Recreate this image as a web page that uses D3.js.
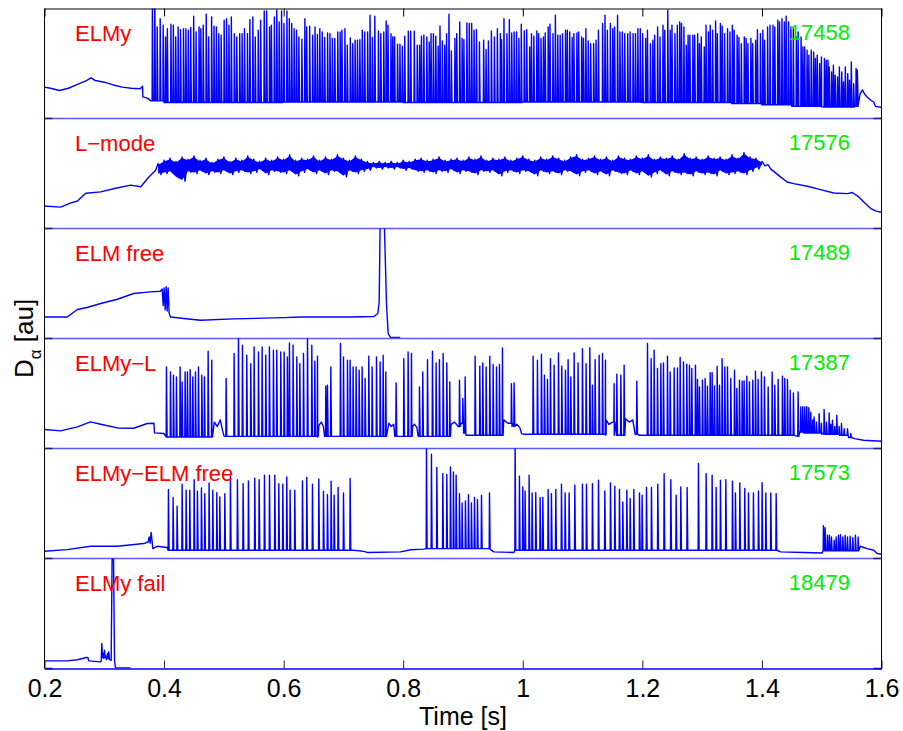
<!DOCTYPE html>
<html>
<head>
<meta charset="utf-8">
<script src="https://cdn.jsdelivr.net/npm/d3@7"></script>
<style>
  body { margin: 0; background: #fff; }
  svg { font-family: "Liberation Sans", Arial, sans-serif; }
</style>
</head>
<body>
<div id="chart"></div>
<script>
// Panel labels and shot numbers, top to bottom
const panelLabels = ["ELMy", "L\u2212mode", "ELM free", "ELMy\u2212L", "ELMy\u2212ELM free", "ELMy fail"];
const shotNumbers = ["17458", "17576", "17489", "17387", "17573", "18479"];

const xTicks = [0.2, 0.4, 0.6, 0.8, 1.0, 1.2, 1.4, 1.6];
const xTickLabels = ["0.2", "0.4", "0.6", "0.8", "1", "1.2", "1.4", "1.6"];

// D-alpha in arbitrary units, every panel runs 0..10
// --- 17458 ELMy: level between ELMs, then the ELM peaks [time s, au]
const elmyFloor = [[0.200,2.85],[0.210,2.75],[0.225,2.55],[0.240,2.75],[0.255,3.1],[0.270,3.45],[0.278,3.7],[0.285,3.45],[0.300,3.3],[0.315,3.05],[0.330,2.85],[0.345,2.75],[0.360,2.7],[0.364,2.93],[0.3645,1.96],[0.372,1.85],[0.378,1.6],[0.40,1.45],[0.60,1.5],[0.80,1.45],[1.00,1.5],[1.20,1.45],[1.35,1.35],[1.40,1.25],[1.45,1.1],[1.50,1.05],[1.556,1.1],[1.5605,2.5],[1.564,2.2],[1.568,2.6],[1.572,2.2],[1.576,1.96],[1.582,1.66],[1.587,1.5],[1.590,1.1],[1.601,1.0]];
const elmyPeaks = [[0.380,11],[0.384,11],[0.388,8.33],[0.393,9.08],[0.398,8.48],[0.402,7.42],[0.405,8.17],[0.411,8.57],[0.415,8.48],[0.419,7.42],[0.423,8.33],[0.427,8.08],[0.432,8.17],[0.436,8.17],[0.440,8.02],[0.444,8.27],[0.449,9.3],[0.453,7.87],[0.458,8.33],[0.461,8.17],[0.465,8.48],[0.470,9.48],[0.474,7.42],[0.479,9.23],[0.483,8.39],[0.487,8.33],[0.491,7.72],[0.495,7.57],[0.500,8.93],[0.504,9.08],[0.508,8.48],[0.512,9.23],[0.517,7.72],[0.521,7.42],[0.526,7.72],[0.530,7.72],[0.534,8.17],[0.539,7.72],[0.543,8.99],[0.548,9.23],[0.552,7.42],[0.557,8.02],[0.561,8.93],[0.567,9.78],[0.571,9.78],[0.576,8.33],[0.579,8.48],[0.584,9.23],[0.588,9.84],[0.592,8.78],[0.596,9.78],[0.600,8.63],[0.605,9.78],[0.609,9.08],[0.613,8.63],[0.617,8.17],[0.621,8.02],[0.625,7.42],
  [0.630,7.2],[0.635,9.08],[0.638,8.33],[0.643,8.39],[0.648,7.57],[0.652,8.33],[0.656,7.63],[0.660,8.17],[0.664,7.87],[0.668,7.36],[0.673,7.78],[0.677,7.72],[0.681,7.27],[0.685,7.27],[0.690,7.87],[0.694,7.87],[0.697,8.02],[0.702,8.17],[0.706,6.66],[0.711,7.33],[0.715,6.81],[0.719,7.11],[0.723,7.11],[0.727,7.17],[0.731,8.02],[0.735,7.87],[0.740,7.87],[0.744,9.39],[0.748,7.36],[0.752,9.3],[0.758,7.96],[0.762,7.72],[0.767,7.87],[0.771,8.87],[0.774,8.48],[0.779,7.72],[0.782,7.42],[0.785,7.42],[0.790,6.75],[0.794,6.75],[0.798,6.57],[0.802,7.48],[0.808,7.93],[0.812,7.93],[0.818,7.93],[0.823,6.66],[0.827,6.66],[0.830,7.48],[0.834,7.57],[0.839,7.42],[0.843,6.96],[0.846,7.72],[0.850,7.72],[0.854,7.48],[0.858,6.57],[0.861,8.42],[0.865,7.05],[0.869,6.66],[0.872,7.72],[0.876,9.48],[0.880,6.14],[0.886,7.27],[0.889,7.72],[0.894,8.78],[0.898,7.27],[0.901,7.17],[0.906,8.69],[0.910,8.63],[0.914,8.63],[0.918,8.02],[0.922,8.08],[0.927,6.96],[0.934,7.11],[0.938,6.27],[0.942,7.05],[0.947,7.96],[0.952,7.42],[0.957,8.17],[0.962,7.72],[0.964,7.17],[0.968,9.08],[0.973,7.72],[0.977,8.99],[0.981,7.78],[0.985,7.87],[0.989,7.87],[0.993,7.27],[0.997,8.57],[1.002,7.96],[1.006,8.08],[1.011,6.51],[1.014,7.72],[1.018,7.48],[1.023,7.96],[1.026,7.72],[1.030,7.27],[1.034,7.42],[1.037,7.78],[1.042,8.33],[1.045,8.57],[1.050,7.72],[1.054,9.39],[1.058,7.57],[1.062,7.57],[1.066,7.72],[1.071,8.02],[1.074,8.02],[1.078,7.87],[1.082,7.36],[1.085,7.72],[1.090,7.78],[1.093,7.87],[1.098,7.42],[1.101,7.27],[1.105,8.17],[1.109,7.05],[1.113,6.81],[1.118,6.81],[1.122,7.11],[1.126,8.02],
  [1.133,8.63],[1.137,9.39],[1.141,8.02],[1.146,8.63],[1.150,8.17],[1.153,8.33],[1.158,9.39],[1.162,7.87],[1.166,7.87],[1.170,7.72],[1.175,7.72],[1.179,7.87],[1.184,7.72],[1.188,7.72],[1.192,8.17],[1.196,8.17],[1.200,7.72],[1.205,7.27],[1.208,8.02],[1.213,6.81],[1.217,7.11],[1.220,7.57],[1.225,8.33],[1.229,7.42],[1.234,8.48],[1.237,8.02],[1.242,9.84],[1.246,8.02],[1.249,8.48],[1.254,7.72],[1.258,8.48],[1.262,8.78],[1.265,8.63],[1.269,8.33],[1.273,6.66],[1.276,7.57],[1.279,7.57],[1.284,7.57],[1.287,7.57],[1.292,7.72],[1.295,6.81],[1.298,7.42],[1.303,6.51],[1.306,8.48],[1.310,7.87],[1.313,8.48],[1.317,8.02],[1.322,8.87],[1.325,7.72],[1.330,8.63],[1.333,8.39],[1.337,7.72],[1.342,8.17],[1.346,7.87],[1.350,8.48],[1.353,8.02],[1.358,7.57],[1.361,7.36],[1.365,6.81],[1.370,7.42],[1.373,7.27],[1.376,6.81],[1.381,7.27],[1.384,6.81],[1.389,7.11],[1.392,8.08],[1.397,7.72],[1.401,8.02],[1.404,7.11],[1.409,8.33],[1.413,8.48],[1.418,8.48],[1.421,8.33],[1.426,8.93],[1.429,8.78],[1.433,9.08],[1.437,8.78],[1.440,9.3],[1.444,8.78],[1.448,8.33],[1.452,8.17],[1.457,7.42],[1.460,7.87],[1.465,7.42],[1.468,6.51],[1.471,6.51],[1.475,6.2],[1.478,5.75],[1.482,6.2],[1.486,6.05],[1.489,5.45],[1.492,5.75],[1.496,4.99],[1.499,5.6],[1.504,5.45],[1.507,5.3],[1.510,5.3],[1.512,4.69],[1.516,4.23],[1.519,4.84],[1.522,3.93],[1.526,3.78],[1.529,4.69],[1.533,4.23],[1.536,3.33],[1.539,4.69],[1.543,4.08],[1.546,3.48],[1.549,5.14],[1.553,3.17],[1.557,4.54],[1.559,4.39]];

// --- 17576 L-mode: smooth parts plus the fluctuating phase sampled every 5 ms (max, min alternating)
const lmodeSmooth = [[0.200,2.05],[0.227,1.94],[0.243,2.3],[0.255,2.5],[0.269,3.2],[0.294,3.33],[0.319,3.66],[0.344,3.94],[0.361,3.8],[0.375,4.7],[0.386,5.3],
  [1.410,5.8],[1.415,5.4],[1.431,4.69],[1.442,4.23],[1.453,4.08],[1.476,3.84],[1.498,3.54],[1.520,3.23],[1.543,3.17],[1.551,3.27],[1.562,2.87],[1.573,2.27],[1.582,1.81],[1.590,1.6],[1.601,1.45]];
const lmodeStart = 0.39;
const lmodeStep = 0.005;
const lmodeSamples = [5.9,4.9,6.2,5.0,6.4,5.1,6.1,4.6,6.5,4.3,6.3,5.1,6.6,5.0,6.2,5.2,6.4,4.9,6.0,5.1,
  6.3,5.0,6.5,5.2,6.1,4.9,6.4,5.1,6.2,5.2,6.6,5.0,6.3,5.1,6.1,5.3,6.4,4.9,6.2,5.2,
  6.5,5.1,6.3,5.0,6.7,5.2,6.2,4.8,6.4,5.1,6.3,5.3,6.6,5.0,6.2,5.2,6.5,4.9,6.3,5.2,
  6.7,5.1,6.4,4.7,6.2,5.2,6.6,5.0,6.3,5.2,6.1,5.3,6.0,5.5,6.1,5.4,6.0,5.5,6.1,5.4,
  6.0,5.5,6.2,5.3,6.1,5.4,6.3,5.2,6.4,5.1,6.2,5.2,6.3,5.0,6.5,5.2,6.2,5.1,6.3,5.3,
  6.4,5.0,6.2,5.2,6.5,5.1,6.3,4.9,6.6,5.2,6.2,5.1,6.4,5.2,6.3,4.8,6.5,5.1,6.2,5.2,
  6.4,5.0,6.6,5.2,6.3,5.1,6.2,4.8,6.5,5.2,6.3,5.0,6.6,5.1,6.4,4.9,6.2,5.2,6.5,5.1,
  6.7,4.8,6.3,5.1,6.4,5.2,6.6,4.9,6.3,5.1,6.5,4.8,6.2,5.2,6.6,5.0,6.4,4.9,6.3,5.2,
  6.6,4.9,6.4,5.1,6.7,4.7,6.3,5.0,6.5,5.2,6.4,4.8,6.6,5.1,6.3,4.9,6.8,5.0,6.4,4.8,
  6.5,5.1,6.3,4.9,6.6,5.0,6.4,4.8,6.5,5.2,6.3,4.9,6.7,5.0,6.4,5.1,6.9,4.9,6.5,5.2,
  6.4,5.4,6.1,5.7];

// --- 17489 ELM free
const elmFreeTrace = [[0.200,1.96],[0.238,1.96],[0.255,2.64],[0.271,2.82],[0.294,3.18],[0.322,3.57],[0.349,4.09],[0.377,4.24],[0.394,4.3],[0.3968,4.5],[0.3985,3.0],[0.4001,4.6],[0.4018,2.6],[0.4035,4.7],[0.4051,2.5],[0.4068,4.6],[0.4085,2.3],[0.4107,1.95],[0.433,1.82],[0.4609,1.66],[0.5167,1.78],[0.6003,1.9],[0.628,1.96],[0.712,1.96],[0.751,2.0],[0.7575,2.27],[0.7598,3.3],[0.7615,11],[0.7681,11],[0.7698,7.7],[0.772,3.2],[0.7748,0.45],[0.7787,0.1],[0.795,0.1]];

// --- 17387 ELMy-L
const elmyLFloor = [[0.200,1.73],[0.227,1.6],[0.255,1.96],[0.277,2.42],[0.294,2.2],[0.322,1.87],[0.349,1.84],[0.372,2.27],[0.383,2.3],[0.384,1.42],[0.400,1.36],[0.4034,1.05],[0.470,1.05],[0.480,1.8],[0.484,2.4],[0.489,2.0],[0.494,2.6],[0.498,1.6],[0.5005,1.1],[0.657,1.05],[0.659,2.1],[0.663,2.4],[0.6665,2.0],[0.6685,1.1],[0.7715,1.9],[0.776,2.3],[0.780,2.0],[0.784,2.2],[0.786,1.1],[0.8145,1.1],[0.8155,2.0],[0.819,2.2],[0.823,1.9],[0.825,1.1],[0.8785,1.1],[0.880,2.2],[0.886,2.4],[0.892,2.0],[0.897,2.3],[0.901,1.4],[0.905,1.2],[0.9665,1.2],[0.968,2.6],[0.975,2.3],[0.982,2.0],[0.990,2.2],[0.995,1.9],[0.998,1.36],[1.001,1.3],[1.1385,1.2],[1.1395,2.6],[1.144,2.2],[1.150,2.4],[1.153,1.2],[1.1705,1.2],[1.172,2.7],[1.178,2.4],[1.184,2.6],[1.188,1.3],[1.195,1.2],[1.460,1.1],[1.4635,1.5],[1.470,1.4],[1.500,1.3],[1.530,1.2],[1.545,1.0],[1.555,0.9],[1.570,0.75],[1.601,0.66]];
const elmyLPeaks = [[0.4035,7.42],[0.4102,6.96],[0.4152,6.66],[0.4202,6.51],[0.4263,7.42],[0.4297,6.05],[0.4347,6.96],[0.4386,6.96],[0.4431,7.17],[0.4475,6.51],[0.4520,6.96],[0.4570,7.42],[0.4626,6.66],[0.4670,6.51],[0.4732,8.84],[0.4793,8.02],[0.5033,6.36],[0.5167,8.63],[0.5239,10.5],[0.5306,9.39],[0.5378,8.48],[0.5445,7.72],[0.5501,9.23],[0.5574,8.78],[0.5635,9.23],[0.5696,8.48],[0.5757,9.23],[0.5824,8.93],[0.5880,8.93],[0.5947,8.78],[0.6003,8.78],[0.6058,8.33],[0.6092,9.6],[0.6153,9.39],[0.6215,8.33],[0.6265,7.72],
  [0.6327,8.63],[0.6394,10.5],[0.6466,9.39],[0.6516,7.93],[0.6561,8.39],[0.6700,5.66],[0.6728,5.75],[0.6784,7.42],[0.6945,9.54],[0.6996,8.33],[0.7063,8.02],[0.7107,8.02],[0.7157,7.42],[0.7207,7.42],[0.7258,7.11],[0.7308,7.42],[0.7358,6.36],[0.7419,8.39],[0.7475,7.42],[0.7548,8.33],[0.7609,7.87],[0.7659,8.48],[0.7704,6.96],[0.7876,5.96],[0.8005,8.17],[0.8077,8.78],[0.8133,8.63],[0.8267,5.6],[0.8322,6.96],[0.8401,8.08],[0.8484,8.84],[0.8545,7.78],[0.8601,8.08],[0.8663,8.63],[0.8724,7.78],[0.8774,6.05],[0.8936,6.2],[0.8992,4.54],[0.9031,6.51],[0.9198,8.39],[0.9276,7.48],[0.9326,7.78],[0.9382,7.42],[0.9443,8.39],[0.9499,7.63],[0.9555,7.42],[0.9605,7.63],[0.9655,9.14],[0.9805,5.9],[0.9850,5.96],[1.0168,8.39],[1.0240,8.02],[1.0307,8.57],[1.0357,6.66],[1.0408,6.27],[1.0458,8.17],[1.0519,7.57],[1.0592,8.69],[1.0647,7.48],[1.0709,7.11],[1.0753,8.08],[1.0798,6.51],[1.0854,8.69],[1.0920,7.78],[1.0993,9.08],[1.1054,7.72],[1.1116,9.17],[1.1160,5.75],[1.1205,8.08],[1.1272,8.48],
  [1.1328,8.63],[1.1378,8.02],[1.1523,5.9],[1.1568,6.75],[1.1635,6.66],[1.1690,7.57],[1.1902,6.11],[1.2081,9.54],[1.2142,8.17],[1.2192,8.93],[1.2248,7.27],[1.2304,7.72],[1.2348,7.78],[1.2415,8.39],[1.2460,6.96],[1.2527,7.33],[1.2582,7.33],[1.2627,8.27],[1.2683,7.87],[1.2738,7.66],[1.2783,7.57],[1.2822,7.27],[1.2883,7.57],[1.2917,6.27],[1.2950,5.6],[1.3000,6.2],[1.3045,6.36],[1.3084,5.66],[1.3129,6.9],[1.3162,6.9],[1.3201,5.69],[1.3246,7.48],[1.3285,5.75],[1.3329,8.17],[1.3374,7.42],[1.3419,7.42],[1.3474,6.36],[1.3536,7.11],[1.3575,5.45],[1.3619,6.2],[1.3664,6.14],[1.3697,6.14],[1.3742,6.57],[1.3786,6.05],[1.3842,6.2],[1.3887,7.02],[1.3931,6.27],[1.3987,6.96],[1.4037,6.51],[1.4099,5.6],[1.4166,6.96],[1.4210,5.75],[1.4266,6.27],[1.4338,6.57],[1.4377,6.36],[1.4422,6.27],[1.4467,5.3],[1.4522,5.05],[1.4600,5.15],[1.4645,3.78],[1.4678,3.8],[1.4712,3.78],[1.4745,3.8],[1.4779,3.7],[1.4812,3.3],[1.4846,2.6],[1.4868,2.87],[1.4907,2.4],[1.4952,3.17],[1.4991,2.3],[1.5035,3.54],[1.5074,2.4],[1.5119,3.23],[1.5147,2.2],[1.5175,2.57],[1.5214,2.0],[1.5247,3.02],[1.5286,2.0],[1.5325,2.27],[1.5370,1.8],[1.5426,1.81],[1.5481,1.36]];

// --- 17573 ELMy-ELM free
const elmyFreeFloor = [[0.200,0.66],[0.238,0.81],[0.277,1.11],[0.322,1.11],[0.366,1.36],[0.3734,1.5],[0.3751,1.96],[0.3767,1.4],[0.3784,2.36],[0.3801,1.5],[0.3812,0.9],[0.3884,1.11],[0.4052,1.0],[0.4067,0.75],[0.7174,0.75],[0.7341,0.65],[0.7397,0.55],[0.7955,0.6],[0.8122,0.8],[0.8345,0.85],[0.8383,0.9],[0.946,0.8],[0.9516,0.6],[0.985,0.55],[0.9866,0.75],[1.4255,0.75],[1.431,0.6],[1.470,0.55],[1.5007,0.5],[1.5023,0.7],[1.562,0.8],[1.5649,1.11],[1.5704,1.0],[1.576,0.9],[1.5871,0.75],[1.5927,0.45],[1.6011,0.39]];
const elmyFreePeaks = [[0.4068,6.27],[0.4146,5.54],[0.4213,4.75],[0.4297,6.75],[0.4364,6.2],[0.4425,6.2],[0.4498,7.17],[0.4553,6.11],[0.4620,6.42],[0.4676,5.9],[0.4748,6.87],[0.4810,6.2],[0.4877,5.99],[0.4927,5.6],[0.5011,5.9],[0.5105,7.48],[0.5222,7.17],[0.5317,6.81],[0.5406,7.05],[0.5512,7.3],[0.5585,7.17],[0.5674,7.57],[0.5758,7.57],[0.5847,7.57],[0.5914,6.81],[0.5981,6.75],[0.6047,7.42],[0.6103,6.2],[0.6181,6.2],
  [0.6310,7.05],[0.6382,7.36],[0.6477,6.75],[0.6583,7.23],[0.6661,6.11],[0.6728,5.81],[0.6789,7.02],[0.6840,5.75],[0.6906,6.45],[0.6996,5.96],[0.7107,7.27],[0.8384,10.2],[0.8467,9.48],[0.8557,8.27],[0.8657,7.72],[0.8724,7.63],[0.8785,8.33],[0.8835,7.87],[0.8880,7.57],[0.8936,5.9],[0.8980,5.05],[0.9036,5.24],[0.9086,5.81],[0.9136,5.05],[0.9187,5.54],[0.9237,5.36],[0.9304,5.75],[0.9438,5.96],[0.9867,10.5],[0.9939,7.48],[0.9995,6.51],[1.0034,6.14],[1.0101,7.57],[1.0151,5.96],[1.0212,5.99],[1.0285,5.54],[1.0330,5.54],[1.0419,6.27],[1.0474,5.9],[1.0547,6.27],[1.0642,6.75],[1.0703,5.96],[1.0770,5.96],[1.0865,6.66],[1.0993,6.75],[1.1060,6.75],[1.1160,6.81],[1.1261,7.11],
  [1.1367,6.14],[1.1462,6.87],[1.1534,6.57],[1.1612,6.27],[1.1668,5.14],[1.1735,6.2],[1.1791,5.45],[1.1852,6.27],[1.1947,5.96],[1.1991,5.75],[1.2064,6.45],[1.2147,6.45],[1.2253,6.75],[1.2359,7.72],[1.2471,7.17],[1.2560,5.75],[1.2638,6.51],[1.2744,6.45],[1.2933,8.63],[1.3062,7.72],[1.3162,7.57],[1.3229,6.45],[1.3301,7.11],[1.3391,7.17],[1.3502,7.02],[1.3552,5.96],[1.3625,6.87],[1.3708,6.36],[1.3770,5.96],[1.3853,5.96],[1.3937,6.14],[1.3998,6.9],[1.4060,5.96],[1.4143,5.96],[1.4233,5.9],
  [1.5024,2.99],[1.5052,2.81],[1.5091,2.11],[1.5124,2.11],[1.5158,1.96],[1.5203,1.66],[1.5236,1.96],[1.5275,2.11],[1.5308,2.17],[1.5348,1.96],[1.5387,2.11],[1.5426,1.96],[1.5470,2.02],[1.5515,1.9],[1.5559,2.11],[1.5604,1.96]];

// --- 18479 ELMy fail
const elmyFailTrace = [[0.200,0.69],[0.238,0.69],[0.255,0.8],[0.2702,1.0],[0.2725,1.0],[0.2741,0.69],[0.2937,0.6],[0.2948,0.7],[0.2959,2.27],[0.2970,1.0],[0.2981,1.36],[0.2992,0.9],[0.3003,1.66],[0.3015,1.0],[0.3026,1.12],[0.3037,0.8],[0.3054,1.36],[0.3065,0.9],[0.3076,1.51],[0.3087,0.8],[0.3115,0.75],[0.3132,10.5],[0.3154,10.5],[0.3171,0.75],[0.3187,0.08],[0.3438,0.05]];

// ---------------------------------------------------------------
const width = 903, height = 731;
const left = 44.5, right = 881.5;
const top0 = 8.5, panelH = 110;
const blue = "#0000ff";

const svg = d3.select("#chart").append("svg")
  .attr("width", width)
  .attr("height", height);

const x = d3.scaleLinear().domain([0.2, 1.6]).range([left, right]);

// put every ELM peak on top of the level it starts from
function addPeaks(floor, peaks) {
  const times = floor.map(d => d[0]);
  const pts = floor.map(d => [d[0], d[1]]);
  peaks.forEach(([t, v]) => {
    const i = Math.max(0, d3.bisectRight(times, t) - 1);
    const b = floor[i][1];
    pts.push([t, b], [t + 0.0005, v], [t + 0.0016, b]);
  });
  return pts.sort((a, b) => a[0] - b[0]);
}

const lmodeNoise = lmodeSamples.map((v, i) => [lmodeStart + i * lmodeStep, v]);
const lmodeTrace = lmodeSmooth.concat(lmodeNoise).sort((a, b) => a[0] - b[0]);
// max/min pairs for the filled envelope of the fluctuations
const lmodeBand = d3.range(lmodeSamples.length / 2).map(k =>
  [lmodeStart + 2 * k * lmodeStep, lmodeSamples[2 * k], lmodeSamples[2 * k + 1]]);

const traces = [
  addPeaks(elmyFloor, elmyPeaks),
  lmodeTrace,
  elmFreeTrace,
  addPeaks(elmyLFloor, elmyLPeaks),
  addPeaks(elmyFreeFloor, elmyFreePeaks),
  elmyFailTrace
];

traces.forEach((trace, i) => {
  const top = top0 + i * panelH;
  const bottom = top + panelH;
  const y = d3.scaleLinear().domain([0, 10]).range([bottom, top]);

  svg.append("clipPath")
    .attr("id", "clip" + i)
    .append("rect")
    .attr("x", left)
    .attr("y", top)
    .attr("width", right - left)
    .attr("height", panelH);

  const line = d3.line()
    .x(d => x(d[0]))
    .y(d => y(d[1]));

  if (i === 1) {
    const band = d3.area()
      .x(d => x(d[0]))
      .y0(d => y(d[2] + 0.1))
      .y1(d => y(d[1] - 0.1));
    svg.append("path")
      .datum(lmodeBand)
      .attr("fill", blue)
      .attr("d", band);
  }

  svg.append("path")
    .datum(trace)
    .attr("clip-path", `url(#clip${i})`)
    .attr("fill", "none")
    .attr("stroke", blue)
    .attr("stroke-width", 1.4)
    .attr("stroke-linejoin", "round")
    .attr("d", line);

  // panel border below, with the small y tick at both ends
  if (i < traces.length - 1) {
    svg.append("line")
      .attr("x1", left).attr("x2", right)
      .attr("y1", bottom).attr("y2", bottom)
      .attr("stroke", "#5a5aff")
      .attr("stroke-width", 1.5);
  }
  svg.append("line")
    .attr("x1", left).attr("x2", left + 8)
    .attr("y1", bottom).attr("y2", bottom)
    .attr("stroke", "#222266").attr("stroke-width", 1.5);
  svg.append("line")
    .attr("x1", right - 8).attr("x2", right)
    .attr("y1", bottom).attr("y2", bottom)
    .attr("stroke", "#222266").attr("stroke-width", 1.5);

  svg.append("text")
    .attr("x", 75)
    .attr("y", top + 32)
    .attr("fill", "#ff0000")
    .style("font-size", "22px")
    .text(panelLabels[i]);

  svg.append("text")
    .attr("x", 850)
    .attr("y", top + 31)
    .attr("text-anchor", "end")
    .attr("fill", "#00ee00")
    .style("font-size", "22px")
    .text(shotNumbers[i]);
});

const bottomY = top0 + 6 * panelH;

// top axis: ticks only
const topAxis = svg.append("g")
  .attr("transform", `translate(0,${top0})`)
  .call(d3.axisTop(x).tickValues(xTicks).tickSizeInner(-8).tickSizeOuter(0).tickFormat(""));
topAxis.select(".domain").attr("stroke", "#000");

// bottom axis with labels
const bottomAxis = svg.append("g")
  .attr("transform", `translate(0,${bottomY})`)
  .call(d3.axisBottom(x).tickValues(xTicks).tickSizeInner(-8).tickSizeOuter(0).tickPadding(11)
    .tickFormat((d, i) => xTickLabels[i]));
bottomAxis.select(".domain").attr("stroke", blue).attr("stroke-width", 1.5);
bottomAxis.selectAll(".tick line").attr("stroke", "#222");
bottomAxis.selectAll("text")
  .style("font-size", "25px")
  .style("font-family", "'Liberation Sans', Arial, sans-serif")
  .attr("fill", "#000");

// left and right frame
svg.append("line")
  .attr("x1", left).attr("x2", left)
  .attr("y1", top0).attr("y2", bottomY)
  .attr("stroke", "#000");
svg.append("line")
  .attr("x1", right).attr("x2", right)
  .attr("y1", top0).attr("y2", bottomY)
  .attr("stroke", "#000");

svg.append("text")
  .attr("x", (left + right) / 2)
  .attr("y", 725)
  .attr("text-anchor", "middle")
  .style("font-size", "25px")
  .text("Time [s]");

const yLabel = svg.append("text")
  .attr("transform", `translate(33,${(top0 + bottomY) / 2}) rotate(-90)`)
  .attr("text-anchor", "middle")
  .style("font-size", "26px");
yLabel.append("tspan").text("D");
yLabel.append("tspan").attr("dy", 8).style("font-size", "17px").text("\u03b1");
yLabel.append("tspan").attr("dy", -8).text(" [au]");
</script>
</body>
</html>
